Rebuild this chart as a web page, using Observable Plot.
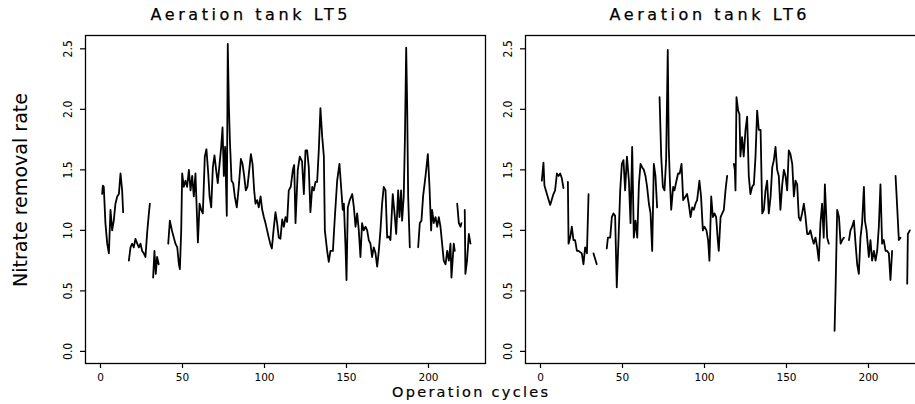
<!DOCTYPE html>
<html>
<head>
<meta charset="utf-8">
<script src="https://cdn.jsdelivr.net/npm/d3@7"></script>
<script src="https://cdn.jsdelivr.net/npm/@observablehq/plot@0.6"></script>
<style>
  html, body { margin: 0; padding: 0; background: #fff; overflow: hidden; }
  #wrap { position: relative; width: 915px; height: 404px; overflow: hidden; background: #fff; }
  .panel { position: absolute; top: 0; height: 404px; }
  .panel svg { max-width: none !important; }
  #overlay { position: absolute; left: 0; top: 0; pointer-events: none; }
</style>
</head>
<body>
<div id="wrap">
  <div id="left" class="panel" style="left:0px;width:490px"></div>
  <div id="right" class="panel" style="left:490px;width:435px"></div>
  <svg id="overlay" width="915" height="404"></svg>
</div>
<script>
// ---- Data (null = gap in the record) ----
const panelTitles = ["Aeration tank LT5", "Aeration tank LT6"];
const xLabel = "Operation cycles";
const yLabel = "Nitrate removal rate";
const xTicks = [0, 50, 100, 150, 200];
const yTicks = [0, 0.5, 1, 1.5, 2, 2.5];

const lt5Cycle = [1.0,1.4,2.0,3.0,4.1,5.1,6.1,7.1,8.1,9.1,10.2,11.2,12.2,13.2,13.8,15.5,
  17.3,18.3,19.3,20.3,21.3,22.4,23.4,24.4,25.4,26.4,27.4,28.5,29.5,30.1,31,
  32.1,32.9,33.7,34.5,35.5,38,
  41.3,42.3,43.7,44.7,45.7,46.8,47.8,48.4,49.2,49.8,50.8,51.8,52.8,53.9,54.9,55.9,56.9,57.9,59.4,60.4,61.4,62.4,
  63.6,64.6,65.7,66.5,67.5,68.5,69.5,70.5,71.5,72.6,73.6,74.4,75.2,76.0,77.0,77.6,78.3,78.9,79.9,80.9,81.9,83.1,
  84.3,85.6,86.6,87.6,88.6,89.6,90.7,91.7,92.7,93.7,94.5,95.5,96.5,97.6,98.6,99.6,100.6,101.6,102.6,103.7,104.5,
  105.5,106.7,107.7,108.7,109.7,110.8,111.8,112.8,113.8,114.8,116.0,117.3,118.1,118.9,120.3,121.5,122.9,124.0,
  125.0,126.0,127.0,128.0,129.1,130.1,131.1,132.1,133.1,134.1,135.2,136.2,136.8,138.2,139.2,140.2,141.7,142.9,
  144.3,145.7,146.7,147.7,148.4,149.4,150.0,150.8,152.0,153.5,154.5,155.5,156.5,157.5,158.5,159.5,160.5,161.6,
  162.6,163.6,164.6,165.6,166.6,167.7,168.7,169.7,170.7,171.7,172.7,173.8,174.8,175.8,176.8,178.2,179.5,180.3,
  181.5,182.3,183.3,183.9,184.9,185.6,186.4,187.0,187.6,188.6,191,
  193.7,194.7,195.7,196.7,198.2,199.6,200.6,201.6,202.2,203.2,204.3,205.3,206.3,207.3,208.3,209.3,210.4,211.4,
  212.4,213.4,214.0,215.4,216.0,216.8,217.5,218.5,219.5,220.1,221,222.1,222.5,223.5,224.6,225.6];
const lt5Rate = [1.30,1.37,1.36,1.06,0.89,0.81,1.17,1.00,1.08,1.22,1.28,1.30,1.47,1.33,1.15,null,
  0.75,0.86,0.89,0.86,0.93,0.89,0.86,0.89,0.83,0.81,0.78,0.99,1.14,1.22,null,
  0.61,0.83,0.64,0.78,0.72,null,
  0.89,1.08,0.99,0.94,0.89,0.86,0.72,0.68,0.99,1.47,1.36,1.41,1.36,1.50,1.33,1.45,1.28,1.47,0.90,1.22,1.17,1.14,
  1.61,1.67,1.47,1.28,1.19,1.52,1.62,1.50,1.39,1.55,1.69,1.85,1.45,1.69,1.12,2.54,2.02,1.74,1.41,1.39,1.28,1.19,
  1.36,1.59,1.55,1.45,1.33,1.36,1.50,1.63,1.55,1.33,1.22,1.25,1.19,1.28,1.17,1.11,1.06,1.00,0.94,0.88,0.85,
  1.00,1.15,1.06,0.94,0.93,1.09,1.03,1.11,1.07,1.33,1.36,1.50,1.54,1.06,1.50,1.61,1.57,1.30,
  1.66,1.66,1.52,1.15,1.36,1.33,1.40,1.40,1.66,2.01,1.77,1.61,1.00,0.83,0.74,0.83,0.83,1.11,
  1.41,1.55,1.36,1.17,1.22,0.86,0.59,1.19,1.25,1.30,1.19,1.03,1.14,1.00,0.78,1.06,1.00,1.03,
  1.00,0.92,0.89,0.78,0.86,0.81,0.70,0.83,1.00,1.22,1.36,1.33,0.94,0.95,0.92,1.30,1.11,0.97,
  1.33,1.11,1.33,1.08,1.28,1.74,2.51,2.02,1.28,0.86,null,
  0.86,1.06,1.08,1.28,1.45,1.63,1.36,1.00,1.17,1.06,1.11,1.03,1.11,1.03,0.89,0.75,0.72,0.83,
  0.75,0.89,0.61,0.89,0.83,null,1.22,1.06,1.03,1.06,null,1.17,0.64,0.75,0.97,0.89];

const lt6Cycle = [0.8,1.8,2.4,3.9,5.9,7.9,8.9,10.0,11.0,12.0,13.0,14.0,15.3,
  16.7,17.1,18.1,19.1,20.1,21.1,22.2,23.2,24.2,25.2,26.2,27.2,28.3,29.3,31,
  32.3,34.3,37,
  40.4,41.1,42.5,43.5,44.5,45.5,46.5,47.6,48.6,49.6,50.6,51.6,52.7,53.9,54.9,55.9,56.9,57.9,59.0,60.0,61.0,62.0,
  63.0,64.0,65.0,66.1,67.1,68.1,69.1,70.1,71.1,71.9,
  72.6,73.6,74.6,75.6,76.6,77.6,78.2,78.9,79.7,80.9,81.7,82.9,83.9,84.9,86.0,87.0,88.4,89.4,90.4,91.5,92.5,93.5,
  94.5,95.5,96.9,97.9,99.0,100.0,101.2,102.2,103.0,104.1,105.1,106.1,107.1,108.1,108.7,109.8,110.8,111.8,112.8,113.8,115.8,
  117.9,118.5,118.9,119.5,120.5,121.3,121.9,122.9,123.9,125.0,126.0,127.0,128.0,129.1,130.1,131.1,132.1,133.1,
  134.2,135.2,136.2,137.2,138.2,139.2,140.3,141.3,142.3,143.3,144.3,145.3,146.3,147.4,148.4,149.4,150.4,151.4,
  152.4,153.5,154.5,155.5,156.5,157.5,158.5,159.5,160.6,161.6,162.6,163.6,164.6,165.6,166.6,167.7,168.7,169.7,
  170.7,171.7,172.7,173.4,174.8,175.8,177.5,
  179.3,179.9,180.9,182.0,183.0,184.0,185.0,186.5,
  188.1,189.0,190.0,191.1,192.1,193.1,194.1,195.1,196.1,197.2,197.8,198.8,200.2,201.2,202.2,203.3,204.3,205.3,
  206.3,207.3,208.3,209.3,210.4,211.4,212.4,213.4,214.4,215.5,
  216.5,217.5,218.5,219.5,221.5,223.6,224.0,225.2];
const lt6Rate = [1.41,1.56,1.37,1.30,1.21,1.30,1.33,1.47,1.45,1.47,1.43,1.35,null,
  1.40,0.89,0.94,1.03,0.92,0.92,0.83,0.83,0.82,0.81,0.72,0.86,0.81,1.30,null,
  0.81,0.72,null,
  0.85,0.94,0.94,1.11,1.14,1.12,0.53,0.94,1.33,1.55,1.58,1.33,1.61,1.41,1.06,1.69,0.94,1.08,0.94,1.38,1.55,1.52,
  1.50,1.45,1.36,1.22,1.14,0.83,1.55,1.45,1.19,null,
  2.10,1.61,1.36,1.33,1.58,2.49,1.69,1.41,1.17,1.36,1.33,1.41,1.47,1.47,1.55,1.25,1.28,1.30,1.22,1.11,1.19,1.17,
  1.22,1.25,1.41,1.28,1.00,1.03,1.00,0.92,0.75,1.28,1.11,1.14,1.11,0.92,0.83,1.11,1.14,1.17,1.33,1.45,null,
  1.55,1.50,1.33,2.10,1.99,1.96,1.61,1.77,1.61,1.83,1.94,1.45,1.30,1.36,1.38,1.61,1.99,1.83,
  1.83,1.14,1.17,1.33,1.41,1.14,1.28,1.52,1.58,1.69,1.50,1.45,1.17,1.38,1.50,1.45,1.33,1.66,
  1.63,1.55,1.28,1.41,1.38,1.11,1.08,1.14,1.22,1.11,0.97,0.97,1.00,0.94,0.89,0.94,0.86,0.75,
  1.06,1.22,0.94,1.38,0.94,0.89,null,
  0.17,0.50,1.17,1.11,0.89,0.92,0.94,null,
  0.92,1.00,1.03,1.08,0.89,0.72,0.64,0.94,1.06,1.36,1.08,1.00,0.78,0.92,0.75,0.83,0.75,0.83,
  1.03,1.38,0.89,0.92,0.83,0.83,0.81,0.59,0.83,null,
  1.45,1.19,0.92,0.94,null,0.56,0.97,1.00];

// ---- Drawing ----
const pxPerUnit = 1.64;           // horizontal pixels per cycle
const frameW = 400;
const xLo = -15 / pxPerUnit;      // cycle at the left frame edge
const xDomain = [xLo, xLo + frameW / pxPerUnit];
const yDomain = [-0.1, 2.61];

function makePanel(cycles, rates, width, marginLeft, marginRight) {
  const data = cycles.map((c, i) => ({cycle: c, rate: rates[i] == null ? NaN : rates[i]}));
  const svg = Plot.plot({
    width, height: 404,
    marginLeft, marginRight, marginTop: 35, marginBottom: 41,
    x: {domain: xDomain},
    y: {domain: yDomain},
    style: {background: "transparent", color: "#000", overflow: "visible", maxWidth: "none"},
    marks: [
      Plot.frame({stroke: "#000", strokeWidth: 1.3}),
      Plot.axisX({ticks: xTicks, tickSize: 5, tickPadding: 5, label: null,
                  fontSize: 10.5, fontFamily: "DejaVu Sans", letterSpacing: "2.2px", strokeWidth: 1.2}),
      Plot.axisY({ticks: yTicks, tickSize: 5, tickPadding: 9, tickRotate: -90, label: null,
                  tickFormat: d => d.toFixed(1), fontSize: 12,
                  fontFamily: "'Liberation Sans Narrow','DejaVu Sans Condensed',sans-serif", strokeWidth: 1.2}),
      Plot.line(data, {x: "cycle", y: "rate", stroke: "#000", strokeWidth: 1.8, strokeLinejoin: "round"})
    ]
  });
  svg.style.maxWidth = "none";
  return svg;
}

document.getElementById("left").append(makePanel(lt5Cycle, lt5Rate, 490, 85, 5));
document.getElementById("right").append(makePanel(lt6Cycle, lt6Rate, 435, 35, 0));

// titles and shared axis labels
const ov = d3.select("#overlay");
const titleX = [249, 708];
panelTitles.forEach((t, i) => {
  ov.append("text").attr("x", titleX[i]).attr("y", 20).attr("text-anchor", "middle")
    .attr("font-family", "DejaVu Sans").attr("font-size", 16)
    .attr("stroke", "#000").attr("stroke-width", 0.25)
    .attr("textLength", 197).attr("lengthAdjust", "spacing").text(t);
});
ov.append("text").attr("x", 470).attr("y", 397).attr("text-anchor", "middle")
  .attr("font-family", "DejaVu Sans").attr("font-size", 14.5)
  .attr("stroke", "#000").attr("stroke-width", 0.2)
  .attr("textLength", 156).attr("lengthAdjust", "spacing").text(xLabel);
ov.append("text").attr("transform", "translate(27,190) rotate(-90)").attr("text-anchor", "middle")
  .attr("font-family", "'Liberation Sans Narrow','DejaVu Sans Condensed',sans-serif").attr("font-size", 19)
  .attr("textLength", 194).attr("lengthAdjust", "spacingAndGlyphs").text(yLabel);
</script>
</body>
</html>
